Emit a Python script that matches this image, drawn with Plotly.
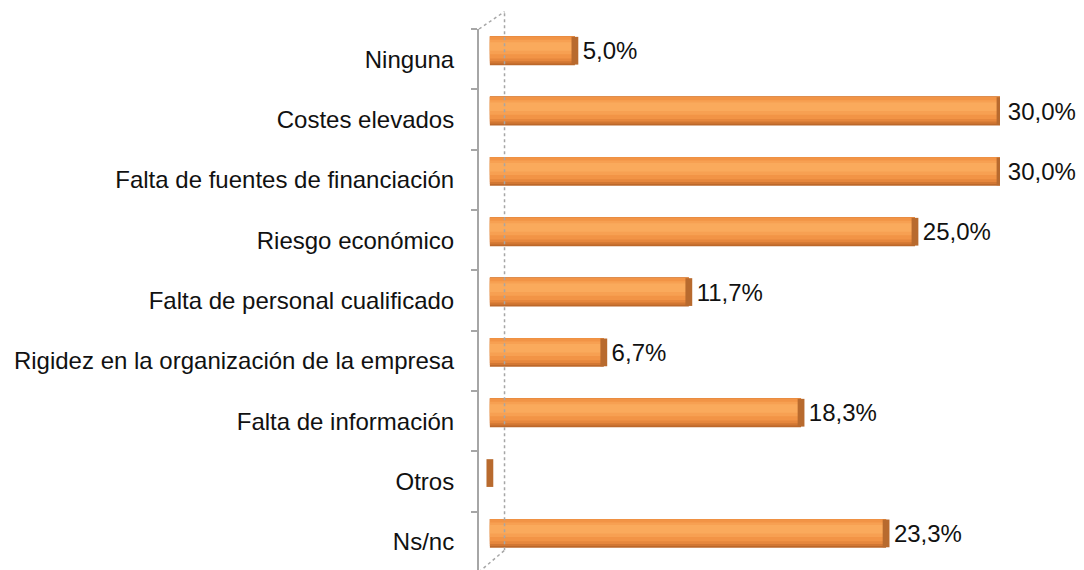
import plotly.graph_objects as go

# Categories top-to-bottom as shown in the chart
categories = [
    "Ninguna",
    "Costes elevados",
    "Falta de fuentes de financiación",
    "Riesgo económico",
    "Falta de personal cualificado",
    "Rigidez en la organización de la empresa",
    "Falta de información",
    "Otros",
    "Ns/nc",
]
values = [5.0, 30.0, 30.0, 25.0, 11.7, 6.7, 18.3, 0.0, 23.3]

labels = [("" if v == 0 else "\u2009" + f"{v:.1f}%".replace(".", ",")) for v in values]

# plotly draws the first category at the bottom, so reverse
cats_r = categories[::-1]
vals_r = values[::-1]
labels_r = labels[::-1]

FONT = "Liberation Sans"
fig = go.Figure()

# --- cylinder shading: stacked layers (bottom dark -> top light), bars sit a bit
#     above the category centre like the 3D original
shade = [
    # (offset, width, colour)
    (-0.10, 0.48, "#BC682B"),
    (-0.07, 0.45, "#D27733"),
    (-0.035, 0.415, "#E6873D"),
    (0.01, 0.365, "#F29446"),
    (0.08, 0.24, "#F7A052"),
    (0.14, 0.14, "#FAAA5C"),
]
for i, (off, w, col) in enumerate(shade):
    kw = {}
    if i == 0:
        kw = dict(text=labels_r, textposition="outside",
                  textfont=dict(size=24, color="#111111", family=FONT),
                  cliponaxis=False)
    fig.add_bar(
        y=cats_r, x=vals_r, orientation="h", width=w, offset=off,
        marker=dict(color=col, line=dict(width=0)),
        hoverinfo="skip", **kw,
    )

# --- darker end cap of each cylinder
fig.add_bar(
    y=cats_r, x=[0.4] * len(vals_r), base=[v - 0.2 for v in vals_r],
    orientation="h", width=0.46, offset=-0.09,
    marker=dict(color="#B86A2E", line=dict(width=0)),
    hoverinfo="skip",
)

# back wall of the 3D frame
wall = dict(color="#A6A6A6", width=1.5, dash="dot")
fig.add_shape(type="line", xref="x domain", yref="y domain",
              x0=0.049, x1=0.049, y0=0.04, y1=1.032, line=wall)
fig.add_shape(type="line", xref="x domain", yref="y domain",
              x0=0.0, x1=0.049, y0=1.0, y1=1.032, line=wall)
fig.add_shape(type="line", xref="x domain", yref="y domain",
              x0=0.0, x1=0.049, y0=0.0, y1=0.04, line=wall)

fig.update_layout(
    barmode="overlay",
    width=1084, height=570,
    margin=dict(l=466, r=92, t=21, b=6),
    paper_bgcolor="white", plot_bgcolor="white",
    showlegend=False,
    font=dict(family=FONT, size=24, color="#111111"),
)
fig.update_xaxes(range=[-0.64, 30], visible=False, showgrid=False, zeroline=False)
fig.update_yaxes(
    showline=True, linecolor="#A6A6A6", linewidth=2,
    ticks="outside", tickson="boundaries", ticklen=6, tickwidth=2, tickcolor="#A6A6A6",
    ticklabelstandoff=18,
    tickfont=dict(size=24, color="#111111", family=FONT),
    showgrid=False, zeroline=False,
)

fig.write_html("out.html")
